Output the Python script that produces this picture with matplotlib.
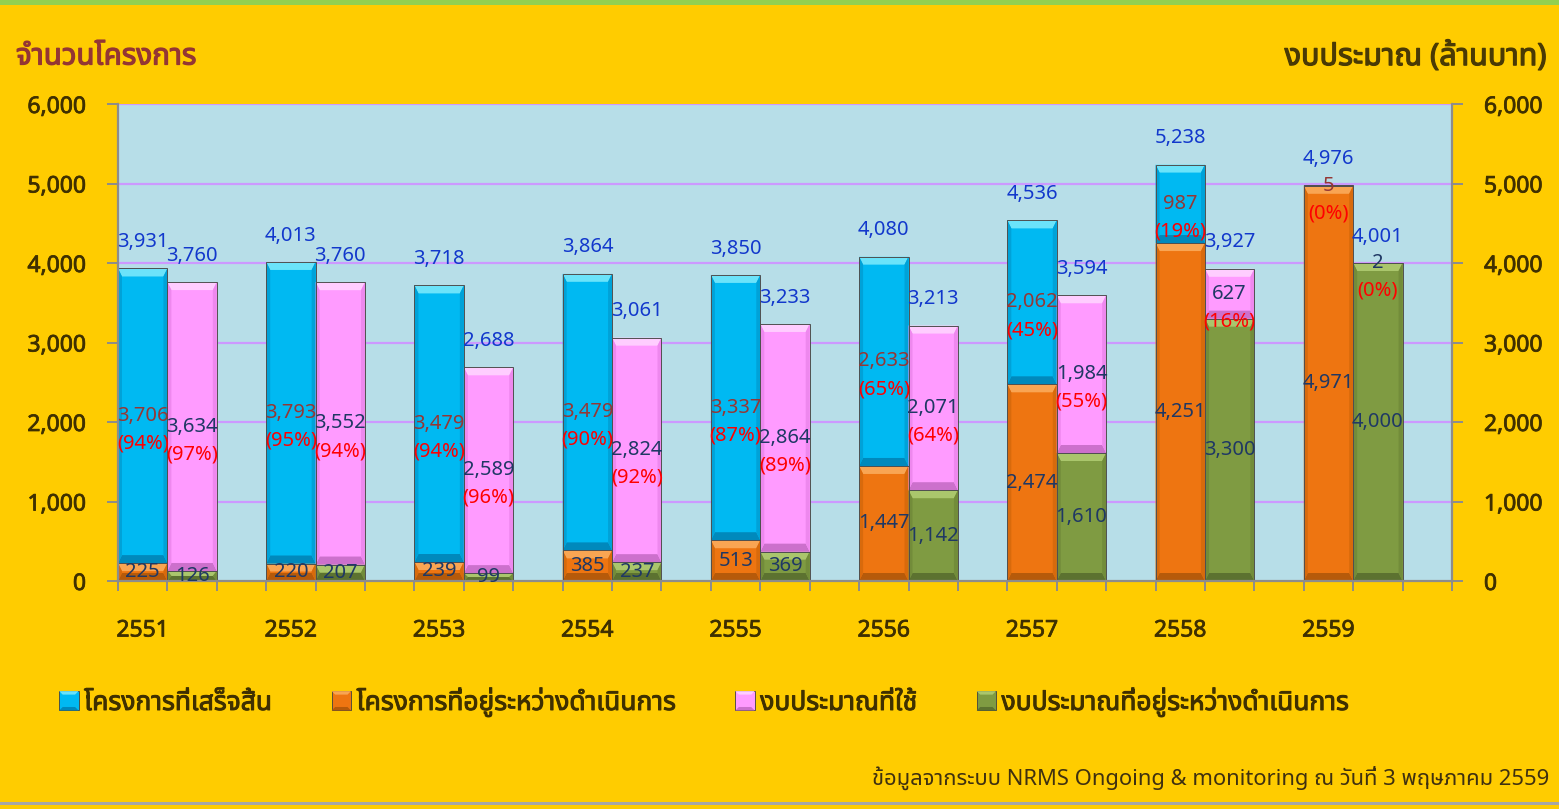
import matplotlib
matplotlib.use("Agg")
import matplotlib.pyplot as plt
from matplotlib import font_manager as fm
from matplotlib import patheffects
from matplotlib.ft2font import FT2Font
from matplotlib.patches import Polygon, Patch, Rectangle
from matplotlib.legend_handler import HandlerPatch

# ---------------- data ----------------
years = ["2551", "2552", "2553", "2554", "2555", "2556", "2557", "2558", "2559"]
proj_done = [3706, 3793, 3479, 3479, 3337, 2633, 2062, 987, 5]
proj_ongoing = [225, 220, 239, 385, 513, 1447, 2474, 4251, 4971]
proj_total = [3931, 4013, 3718, 3864, 3850, 4080, 4536, 5238, 4976]
proj_pct = [94, 95, 94, 90, 87, 65, 45, 19, 0]
budget_used = [3634, 3552, 2589, 2824, 2864, 2071, 1984, 627, 2]
budget_ongoing = [126, 207, 99, 237, 369, 1142, 1610, 3300, 4000]
budget_total = [3760, 3760, 2688, 3061, 3233, 3213, 3594, 3927, 4001]
budget_pct = [97, 94, 96, 92, 89, 64, 55, 16, 0]
yticks = [0, 1000, 2000, 3000, 4000, 5000, 6000]
legend_labels = ["โครงการที่เสร็จสิ้น", "โครงการที่อยู่ระหว่างดำเนินการ",
                 "งบประมาณที่ใช้", "งบประมาณที่อยู่ระหว่างดำเนินการ"]
left_title = "จำนวนโครงการ"
right_title = "งบประมาณ (ล้านบาท)"
source_text = "ข้อมูลจากระบบ NRMS Ongoing & monitoring ณ วันที่ 3 พฤษภาคม 2559"


# ---------------- fonts ----------------
def find_thai_font():
    prefs = ["Tahoma", "Noto Sans Thai", "Noto Sans Thai UI", "Leelawadee UI",
             "Loma", "Garuda", "Waree", "Umpush", "Sarabun", "Norasi", "Kinnari",
             "FreeSans", "Noto Serif Thai", "Noto Looped Thai"]
    found = {}
    for f in fm.fontManager.ttflist:
        try:
            cm = FT2Font(f.fname).get_charmap()
            if 0x0E01 in cm and 0x0E33 in cm and 0x0E49 in cm:
                found.setdefault(f.name, f.fname)
        except Exception:
            pass
    for p in prefs:
        if p in found:
            return p
    return next(iter(found), None)


thai = find_thai_font()
LAT = "Noto Sans"
FAM = [LAT] + ([thai] if thai else []) + ["DejaVu Sans"]
THAI_FAM = ([thai] if thai else []) + [LAT, "DejaVu Sans"]
plt.rcParams["font.family"] = FAM


def boldify(t, color, lw=0.6):
    t.set_path_effects([patheffects.withStroke(linewidth=lw, foreground=color)])


# ---------------- colours ----------------
BG = "#FFCC00"
PLOT_BG = "#B7DEE8"
GRID = "#CC99FF"
AXIS_GRAY = "#8C8C8C"
TICK_TXT = "#3F3000"
C_TOTAL = "#1238CC"
C_DONE = "#953735"
C_PCT = "#FF0000"
C_DARK = "#1F3864"

styles = {
    "blue": dict(base="#00B9F2", top="#6BE3FA", bot="#0089BC", side="#00A2D8"),
    "orange": dict(base="#EE7511", top="#F9A553", bot="#B65A0A", side="#D86A0C"),
    "pink": dict(base="#FF9BFF", top="#FFCDFF", bot="#CC70CC", side="#EE88EE"),
    "green": dict(base="#7F9B42", top="#AAC66C", bot="#5C7230", side="#728C3A"),
}

W, H = 1559, 809
fig = plt.figure(figsize=(W / 100, H / 100), dpi=100, facecolor=BG)

# top green stripe and bottom grey line
fig.add_artist(Rectangle((0, 1 - 5 / H), 1, 5 / H, transform=fig.transFigure,
                         facecolor="#92D050", edgecolor="none", zorder=0))
fig.add_artist(Rectangle((0, 4 / H), 1, 3 / H, transform=fig.transFigure,
                         facecolor="#A6A6A6", edgecolor="none", zorder=0))

ax_l, ax_r_px, ax_t, ax_b = 118, 1452, 104, 581
ax = fig.add_axes([ax_l / W, 1 - ax_b / H, (ax_r_px - ax_l) / W, (ax_b - ax_t) / H])
ax.set_facecolor(PLOT_BG)

n = len(years)
ncols = 3
ax.set_xlim(0, n * ncols)
ax.set_ylim(0, 6000)

px_x = (ax_r_px - ax_l) / (n * ncols)   # px per x unit
px_y = (ax_b - ax_t) / 6000.0           # px per y unit


def bevel(bar, st, side_px=4.0, tb_px=8.0):
    x0, y0, w, h = bar.get_x(), bar.get_y(), bar.get_width(), bar.get_height()
    if h <= 0:
        return
    bw = min(side_px / px_x, w / 2)
    bh = min(tb_px / px_y, h / 2)
    x1, y1 = x0 + w, y0 + h
    polys = [
        ([(x0, y1), (x1, y1), (x1 - bw, y1 - bh), (x0 + bw, y1 - bh)], st["top"]),
        ([(x0, y0), (x1, y0), (x1 - bw, y0 + bh), (x0 + bw, y0 + bh)], st["bot"]),
        ([(x0, y0), (x0 + bw, y0 + bh), (x0 + bw, y1 - bh), (x0, y1)], st["side"]),
        ([(x1, y0), (x1 - bw, y0 + bh), (x1 - bw, y1 - bh), (x1, y1)], st["side"]),
    ]
    for pts, c in polys:
        ax.add_patch(Polygon(pts, closed=True, facecolor=c, edgecolor="none",
                             zorder=3.1))
    ax.add_patch(Rectangle((x0, y0), w, h, facecolor="none", edgecolor="#505050",
                           linewidth=0.7, zorder=3.2))


xp = [ncols * i + 0.5 for i in range(n)]
xb = [ncols * i + 1.5 for i in range(n)]

b_or = ax.bar(xp, proj_ongoing, width=1.0, color=styles["orange"]["base"], zorder=3)
b_bl = ax.bar(xp, proj_done, width=1.0, bottom=proj_ongoing,
              color=styles["blue"]["base"], zorder=3)
b_gr = ax.bar(xb, budget_ongoing, width=1.0, color=styles["green"]["base"], zorder=3)
b_pk = ax.bar(xb, budget_used, width=1.0, bottom=budget_ongoing,
              color=styles["pink"]["base"], zorder=3)
for bars, key in [(b_or, "orange"), (b_bl, "blue"), (b_gr, "green"), (b_pk, "pink")]:
    for b in bars:
        bevel(b, styles[key])

# grid
for v in yticks[1:]:
    ax.axhline(v, color=GRID, linewidth=1.6, zorder=1)

# spines
ax.spines["top"].set_visible(False)
for s in ["left", "right", "bottom"]:
    ax.spines[s].set_color(AXIS_GRAY)
    ax.spines[s].set_linewidth(1.6)
    ax.spines[s].set_zorder(4)

# x ticks
ax.set_xticks(range(0, n * ncols + 1), minor=True)
ax.tick_params(axis="x", which="minor", direction="out", length=7, width=1.4,
               color=AXIS_GRAY)
ax.set_xticks(xp)
ax.set_xticklabels(years, fontsize=16.5, color=TICK_TXT)
ax.tick_params(axis="x", which="major", length=0, pad=27)

# y ticks (left + right)
ax.set_yticks(yticks)
ax.set_yticklabels([f"{v:,}" for v in yticks], fontsize=16.5, color=TICK_TXT)
ax.tick_params(axis="y", direction="out", length=8, width=1.4, color=AXIS_GRAY,
               pad=15)
ax2 = ax.twinx()
ax2.set_ylim(ax.get_ylim())
ax2.set_yticks(yticks)
ax2.set_yticklabels([f"{v:,}" for v in yticks], fontsize=16.5, color=TICK_TXT)
ax2.tick_params(axis="y", direction="out", length=8, width=1.4, color=AXIS_GRAY,
                pad=15)
for s in ax2.spines.values():
    s.set_visible(False)
for t in ax.get_xticklabels() + ax.get_yticklabels() + ax2.get_yticklabels():
    boldify(t, TICK_TXT, 0.55)

# ---------------- data labels ----------------
LBL = 14.5
PCT_OFF = -20
for i in range(n):
    # totals
    ax.annotate(f"{proj_total[i]:,}", (xp[i], proj_total[i]), xytext=(0, 19),
                textcoords="offset points", ha="center", va="center",
                fontsize=LBL, color=C_TOTAL, zorder=6)
    ax.annotate(f"{budget_total[i]:,}", (xb[i], budget_total[i]), xytext=(0, 19),
                textcoords="offset points", ha="center", va="center",
                fontsize=LBL, color=C_TOTAL, zorder=6)
    # completed projects
    yc = proj_ongoing[i] + proj_done[i] / 2
    ax.annotate(f"{proj_done[i]:,}", (xp[i], yc), ha="center", va="center",
                fontsize=LBL, color=C_DONE, zorder=6)
    ax.annotate(f"({proj_pct[i]}%)", (xp[i], yc), xytext=(0, PCT_OFF),
                textcoords="offset points", ha="center", va="center",
                fontsize=LBL, color=C_PCT, zorder=6)
    # budget used
    yu = budget_ongoing[i] + budget_used[i] / 2
    ax.annotate(f"{budget_used[i]:,}", (xb[i], yu), ha="center", va="center",
                fontsize=LBL, color=C_DARK, zorder=6)
    ax.annotate(f"({budget_pct[i]}%)", (xb[i], yu), xytext=(0, PCT_OFF),
                textcoords="offset points", ha="center", va="center",
                fontsize=LBL, color=C_PCT, zorder=6)
    # ongoing
    ax.annotate(f"{proj_ongoing[i]:,}", (xp[i], proj_ongoing[i] / 2),
                ha="center", va="center", fontsize=LBL, color=C_DARK, zorder=6)
    ax.annotate(f"{budget_ongoing[i]:,}", (xb[i], budget_ongoing[i] / 2),
                ha="center", va="center", fontsize=LBL, color=C_DARK, zorder=6)

# ---------------- titles ----------------
t1 = fig.text(16 / W, 1 - 57 / H, left_title, family=THAI_FAM, fontsize=21.3,
              color="#943634", ha="left", va="center")
boldify(t1, "#943634", 0.9)
t2 = fig.text(1547 / W, 1 - 57 / H, right_title, family=THAI_FAM, fontsize=22,
              color="#4A3A05", ha="right", va="center")
boldify(t2, "#4A3A05", 0.9)
fig.text(1549 / W, 1 - 778 / H, source_text, family=FAM, fontsize=15.8,
         color="#3F3010", ha="right", va="center")


# ---------------- legend ----------------
class BevelHandler(HandlerPatch):
    def __init__(self, st):
        super().__init__()
        self.st = st

    def create_artists(self, legend, orig_handle, xdescent, ydescent, width,
                       height, fontsize, trans):
        x0, y0 = -xdescent, -ydescent
        s = min(width, height)
        x0 = x0 + (width - s) / 2
        y0 = y0 + (height - s) / 2
        b = s * 0.18
        st = self.st
        arts = [Rectangle((x0, y0), s, s, facecolor=st["base"], edgecolor="#404040",
                          linewidth=0.6)]
        pts = [
            ([(x0, y0 + s), (x0 + s, y0 + s), (x0 + s - b, y0 + s - b), (x0 + b, y0 + s - b)], st["top"]),
            ([(x0, y0), (x0 + s, y0), (x0 + s - b, y0 + b), (x0 + b, y0 + b)], st["bot"]),
        ]
        for p, c in pts:
            arts.append(Polygon(p, closed=True, facecolor=c, edgecolor="none"))
        for a in arts:
            a.set_transform(trans)
        return arts


handles = [Patch(label=lab) for lab in legend_labels]
hmap = {handles[0]: BevelHandler(styles["blue"]),
        handles[1]: BevelHandler(styles["orange"]),
        handles[2]: BevelHandler(styles["pink"]),
        handles[3]: BevelHandler(styles["green"])}
leg = fig.legend(handles=handles, handler_map=hmap, loc="center left",
                 bbox_to_anchor=(59 / W, 1 - 702 / H), ncol=4, frameon=False,
                 prop=fm.FontProperties(family=THAI_FAM, size=19),
                 handlelength=0.75, handleheight=0.75, handletextpad=0.2,
                 columnspacing=2.25, borderaxespad=0, borderpad=0)
for t in leg.get_texts():
    t.set_color("#3F3000")
    boldify(t, "#3F3000", 0.7)

fig.savefig("out.png", dpi=100, facecolor=BG)
